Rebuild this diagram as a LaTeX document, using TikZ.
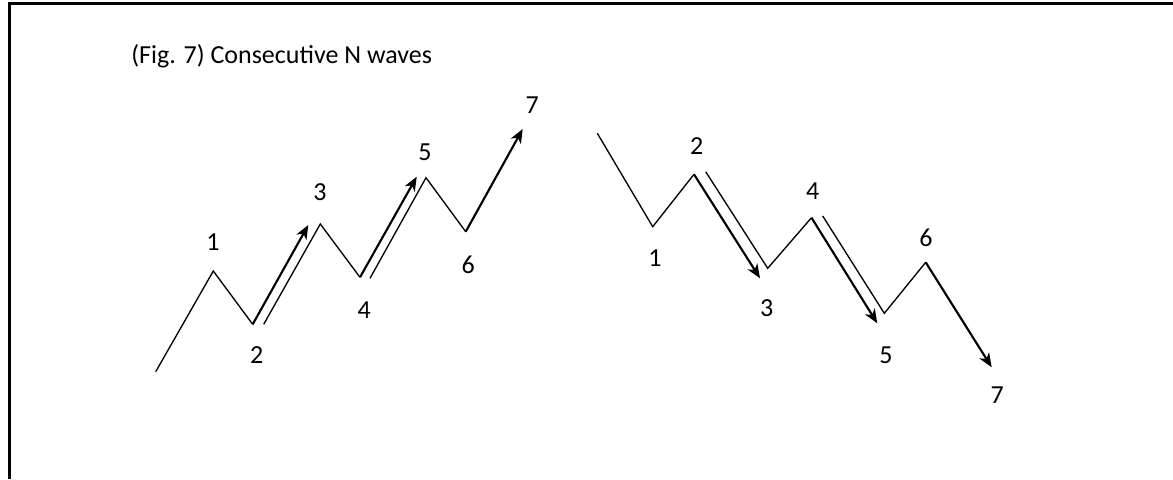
\documentclass[tikz,border=0pt]{standalone}
\usepackage{fontspec}
\setmainfont{Carlito}
\usetikzlibrary{arrows.meta}
\begin{document}
\begin{tikzpicture}[x=0.75pt,y=-0.75pt,
  wave/.style={line width=1pt},
  push/.style={line width=1.6pt,-{Stealth[length=10.5pt,width=8.5pt,inset=3pt]}},
  lbl/.style={inner sep=0pt,font=\fontsize{19.5}{23}\selectfont}]
\useasboundingbox (0,0) rectangle (1173,479);
\draw[line width=2pt] (9.3,479) -- (9.3,3.3) -- (1173,3.3);
\node[lbl,anchor=base west] (title) at (131,63.3) {(Fig. 7) Consecutive N waves};
% rising waves
\draw[wave] (155.7,371.7) -- (213.3,271) -- (252.7,324.3);
\draw[push] (252.7,324.3) -- (308.3,225);
\draw[wave] (263.7,324.3) -- (320.3,224) -- (360,277.3);
\draw[push] (360,277.3) -- (416.7,176.7);
\draw[wave] (370,278.3) -- (426,177.7) -- (465.7,231.7);
\draw[push] (465.7,231.7) -- (522.7,129);
\node[lbl] (u1) at (213,242) {1};
\node[lbl] (u2) at (256.7,355) {2};
\node[lbl] (u3) at (320,192) {3};
\node[lbl] (u4) at (364.3,310) {4};
\node[lbl] (u5) at (425,152.7) {5};
\node[lbl] (u6) at (468.3,265) {6};
\node[lbl] (u7) at (532.3,105) {7};
% falling waves
\draw[wave] (597.3,133.3) -- (652.7,226.7) -- (694,174.3);
\draw[push] (694,174.3) -- (760,278.3);
\draw[wave] (705.7,171.7) -- (767.7,268.3) -- (811.5,217.7);
\draw[push] (811.5,217.7) -- (877.3,323.3);
\draw[wave] (822.7,216) -- (884.3,313.3) -- (925.7,262.3);
\draw[push] (925.7,262.3) -- (991.7,367.3);
\node[lbl] (d1) at (655,257.7) {1};
\node[lbl] (d2) at (696.7,146) {2};
\node[lbl] (d3) at (766.7,307.7) {3};
\node[lbl] (d4) at (812.7,191) {4};
\node[lbl] (d5) at (886,355) {5};
\node[lbl] (d6) at (926,238.3) {6};
\node[lbl] (d7) at (997.3,395) {7};
\end{tikzpicture}
\end{document}
